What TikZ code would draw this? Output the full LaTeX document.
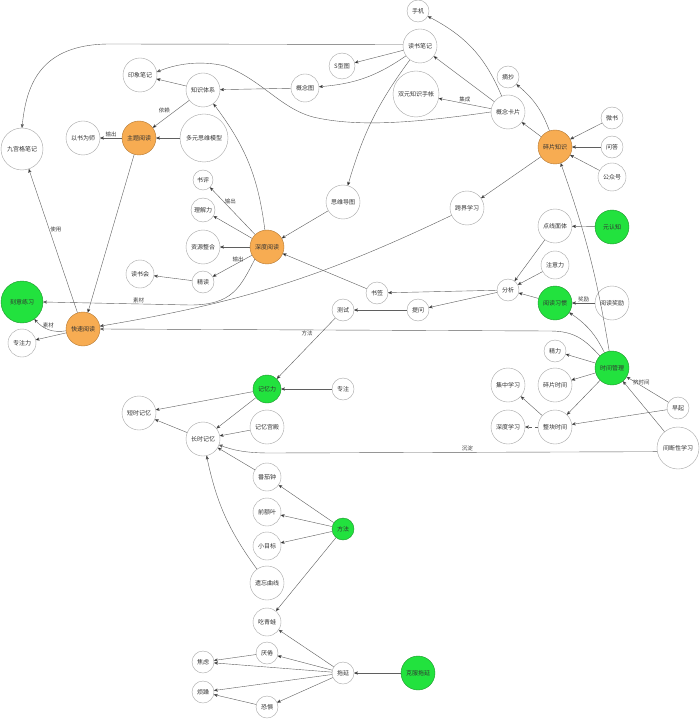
\documentclass[tikz,border=0pt]{standalone}
\usepackage{fontspec}
\newfontfamily\cjk{Noto Sans CJK SC}
\usepackage{tikz}
\usetikzlibrary{positioning}
\usetikzlibrary{arrows}
\definecolor{hubfill}{RGB}{247,172,82}
\definecolor{hubline}{RGB}{180,120,50}
\definecolor{keyfill}{RGB}{34,226,62}
\definecolor{keyline}{RGB}{30,150,45}
\definecolor{edgegray}{RGB}{95,95,95}
\tikzset{bub/.style={circle,draw=gray!70,fill=white,inner sep=0pt,line width=0.4pt,
    font=\cjk\fontsize{6}{7}\selectfont,text=black!80}}
\tikzset{hub/.style={bub,draw=hubline,fill=hubfill}}
\tikzset{key/.style={bub,draw=keyline,fill=keyfill}}
\tikzset{lbl/.style={font=\cjk\fontsize{5.5}{6}\selectfont,text=black!75,inner sep=1pt}}
\tikzset{conn/.style={->,>=stealth',draw=edgegray,line width=0.4pt}}

\begin{document}
\begin{tikzpicture}[x=1pt,y=-1pt]
		\fill[white] (0,0) rectangle (700,719);
		\useasboundingbox (0,0) rectangle (700,719);
		% reading notes, top
		\node[bub,minimum size=22pt] (SJ) at (418,11) {手机};
		\node[bub,minimum size=34pt] (DSBJ) at (420,46) {读书笔记};
		\node[bub,minimum size=26pt] (SXT) at (342,66) {S型图};
		\node[bub,minimum size=28pt] (GNT) at (305,88) {概念图};
		\node[bub,minimum size=34pt] (YXBJ) at (140,75) {印象笔记};
		\node[bub,minimum size=34pt] (ZSTX) at (203,90) {知识体系};
		\node[bub,minimum size=46pt] (SYSZ) at (416,94) {双元知识手帐};
		\node[bub,minimum size=34pt] (GNKP) at (508,112) {概念卡片};
		\node[bub,minimum size=22pt] (ZC) at (508,77) {摘抄};
		\node[hub,minimum size=34pt] (SPZS) at (555,147) {碎片知识};
		\node[bub,minimum size=22pt] (WS) at (612,118) {微书};
		\node[bub,minimum size=22pt] (WD) at (612,147) {问答};
		\node[bub,minimum size=28pt] (GZH) at (612,177) {公众号};
		% reading
		\node[hub,minimum size=34pt] (ZTYD) at (139,138) {主题阅读};
		\node[bub,minimum size=34pt] (YSWS) at (83,138) {以书为师};
		\node[bub,minimum size=48pt] (DYSW) at (204,138) {多元思维模型};
		\node[bub,minimum size=42pt] (JGG) at (22,149) {九宫格笔记};
		\node[bub,minimum size=20pt] (SP) at (203,180) {书评};
		\node[bub,minimum size=24pt] (LJL) at (203,210) {理解力};
		\node[bub,minimum size=34pt] (ZYZH) at (203,247) {资源整合};
		\node[bub,minimum size=28pt] (DSH) at (140,274) {读书会};
		\node[bub,minimum size=22pt] (JD) at (203,282) {精读};
		\node[hub,minimum size=34pt] (SDYD) at (267,247) {深度阅读};
		\node[bub,minimum size=34pt] (SWDT) at (343,202) {思维导图};
		\node[bub,minimum size=34pt] (KJXX) at (467,208) {跨界学习};
		\node[hub,minimum size=34pt] (KSYD) at (83,329) {快速阅读};
		\node[key,minimum size=42pt] (KYLX) at (22,302) {刻意练习};
		\node[bub,minimum size=28pt] (ZZL) at (22,343) {专注力};
		\node[bub,minimum size=22pt] (SQ) at (377,293) {书签};
		\node[bub,minimum size=22pt] (TW) at (418,310) {提问};
		\node[bub,minimum size=22pt] (CS) at (343,310) {测试};
		% habits and time
		\node[bub,minimum size=22pt] (FX) at (508,290) {分析};
		\node[bub,minimum size=34pt] (DXMT) at (555,226) {点线面体};
		\node[key,minimum size=34pt] (YRZ) at (612,227) {元认知};
		\node[bub,minimum size=28pt] (ZYL) at (555,265) {注意力};
		\node[key,minimum size=34pt] (YDXG) at (555,303) {阅读习惯};
		\node[bub,minimum size=34pt] (YDJL) at (612,303) {阅读奖励};
		\node[key,minimum size=34pt] (SJGL) at (612,368) {时间管理};
		\node[bub,minimum size=22pt] (JL) at (555,351) {精力};
		\node[bub,minimum size=34pt] (SPSJ) at (555,385) {碎片时间};
		\node[bub,minimum size=34pt] (JZXX) at (508,385) {集中学习};
		\node[bub,minimum size=34pt] (ZKSJ) at (555,427) {整块时间};
		\node[bub,minimum size=34pt] (SDXX) at (508,427) {深度学习};
		\node[bub,minimum size=22pt] (ZQ) at (678,408) {早起};
		\node[bub,minimum size=42pt] (JDXX) at (678,448) {间断性学习};
		% memory
		\node[key,minimum size=28pt] (JYL) at (267,389) {记忆力};
		\node[bub,minimum size=22pt] (ZZ) at (343,389) {专注};
		\node[bub,minimum size=34pt] (DSJY) at (139,413) {短时记忆};
		\node[bub,minimum size=34pt] (CSJY) at (203,439) {长时记忆};
		\node[bub,minimum size=34pt] (JYGD) at (267,427) {记忆宫殿};
		\node[bub,minimum size=28pt] (FQZ) at (267,477) {番茄钟};
		\node[bub,minimum size=28pt] (QEY) at (267,512) {前额叶};
		\node[bub,minimum size=28pt] (XMB) at (267,546) {小目标};
		\node[bub,minimum size=34pt] (YWQX) at (267,583) {遗忘曲线};
		\node[bub,minimum size=28pt] (CQW) at (267,622) {吃青蛙};
		\node[key,minimum size=22pt] (FF) at (343,529) {方法};
		% procrastination
		\node[bub,minimum size=22pt] (YJ) at (267,653) {厌倦};
		\node[bub,minimum size=22pt] (TY) at (343,673) {拖延};
		\node[key,minimum size=34pt] (KFTY) at (418,673) {克服拖延};
		\node[bub,minimum size=22pt] (KJ) at (267,707) {恐惧};
		\node[bub,minimum size=22pt] (JLv) at (203,662) {焦虑};
		\node[bub,minimum size=22pt] (FZ) at (203,692) {烦躁};

		\path [conn] (GNKP) edge[bend right=20] (SJ);
		\path [conn] (GNKP) edge (DSBJ);
		\path [conn] (GNKP) edge node[lbl,above]{集成} (SYSZ);
		\draw [conn] (GNKP.west) .. controls (420,122) and (360,128) .. (313,117)
			.. controls (280,108) and (262,80) .. (225,66)
			.. controls (200,60) and (175,64) .. (YXBJ.10);
		\path [conn] (DSBJ) edge (SXT);
		\path [conn] (DSBJ) edge[bend left=15] (GNT);
		\path [conn] (DSBJ) edge[bend right=10] (SWDT);
		\draw [conn] (DSBJ.175) -- (110,44) .. controls (40,44) and (26,85) .. (JGG.north);
		\path [conn] (GNT) edge (ZSTX);
		\path [conn] (ZSTX) edge (YXBJ);
		\path [conn] (ZSTX) edge node[lbl,above left]{依赖} (ZTYD);
		\path [conn] (DYSW) edge (ZTYD);
		\path [conn] (ZTYD) edge node[lbl,above]{输出} (YSWS);
		\path [conn] (ZTYD) edge (KSYD);
		\path [conn] (KSYD) edge node[lbl,pos=0.58,right]{使用} (JGG);
		\path [conn] (SDYD) edge[bend right=15] (ZSTX);
		\path [conn] (SDYD) edge node[lbl,pos=0.7,right]{输出} (SP);
		\path [conn] (SDYD) edge (LJL);
		\path [conn] (SDYD) edge (ZYZH);
		\path [conn] (SDYD) edge node[lbl,pos=0.35,above]{输出} (JD);
		\path [conn] (JD) edge (DSH);
		\draw [conn] (SDYD.south west) .. controls (240,288) and (232,305) .. (190,305)
			-- node[lbl,above,pos=0.35]{素材} (KYLX.east);
		\path [conn] (SWDT) edge (SDYD);
		\path [conn] (SPZS) edge (KJXX);
		\path [conn] (KJXX) edge[bend left=8] (KSYD);
		\path [conn] (SPZS) edge (GNKP);
		\path [conn] (SPZS) edge[bend right=15] (ZC);
		\path [conn] (WS) edge (SPZS);
		\path [conn] (WD) edge (SPZS);
		\path [conn] (GZH) edge (SPZS);
		\path [conn] (SJGL) edge[bend right=5] (SPZS);
		\path [conn] (YRZ) edge (DXMT);
		\path [conn] (DXMT) edge (FX);
		\path [conn] (ZYL) edge (FX);
		\path [conn] (YDXG) edge (FX);
		\path [conn] (YDJL) edge node[lbl,above]{奖励} (YDXG);
		\path [conn] (SJGL) edge[bend right=15] (YDXG);
		\path [conn] (FX) edge (SQ);
		\path [conn] (FX) edge (TW);
		\path [conn] (SQ) edge (SDYD);
		\path [conn] (TW) edge (CS);
		\path [conn] (CS) edge (JYL);
		\path [conn] (ZZ) edge (JYL);
		\draw [conn] (SJGL.north west) .. controls (585,340) and (575,331) .. (550,331)
			-- node[lbl,below,pos=0.54]{方法} (KSYD.east);
		\path [conn] (SJGL) edge (JL);
		\path [conn] (SJGL) edge (SPSJ);
		\path [conn] (SJGL) edge (ZKSJ);
		\path [conn] (ZKSJ) edge (JZXX);
		\path [conn] (ZKSJ) edge[dashed] (SDXX);
		\path [conn] (ZQ) edge node[lbl,pos=0.65,above]{挤时间} (SJGL);
		\path [conn] (ZQ) edge (ZKSJ);
		\path [conn] (JDXX) edge (SJGL);
		\draw [conn] (JDXX.190) -- node[lbl,above,pos=0.49]{沉淀} (270,453)
			.. controls (245,453) and (232,450) .. (CSJY.-20);
		\path [conn] (JYL) edge (DSJY);
		\path [conn] (JYL) edge (CSJY);
		\path [conn] (CSJY) edge (DSJY);
		\path [conn] (JYGD) edge (CSJY);
		\path [conn] (FQZ) edge (CSJY);
		\path [conn] (YWQX) edge[bend left=12] (CSJY);
		\path [conn] (FF) edge (FQZ);
		\path [conn] (FF) edge (QEY);
		\path [conn] (FF) edge (XMB);
		\path [conn] (FF) edge (CQW);
		\path [conn] (TY) edge (CQW);
		\path [conn] (TY) edge (YJ);
		\path [conn] (TY) edge (JLv);
		\path [conn] (TY) edge (FZ);
		\path [conn] (TY) edge (KJ);
		\path [conn] (YJ) edge (JLv);
		\path [conn] (KJ) edge (FZ);
		\path [conn] (KFTY) edge (TY);
		\path [conn] (KSYD) edge[bend left=30] node[lbl,above]{素材} (KYLX);
		\path [conn] (KSYD) edge (ZZL);
	\end{tikzpicture}
\end{document}
